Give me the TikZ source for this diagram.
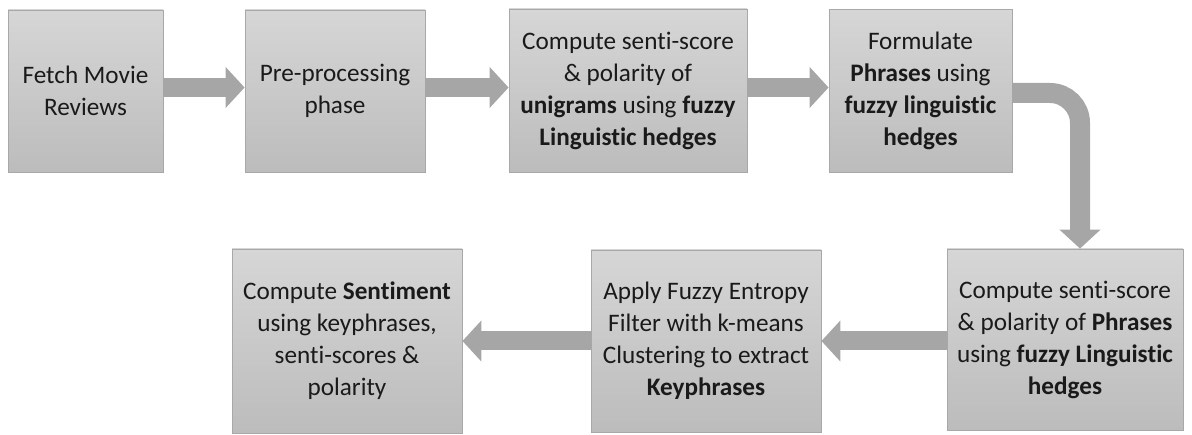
\documentclass[tikz,border=0pt]{standalone}
\usepackage{fontspec}
\setmainfont{Carlito}[Ligatures=NoCommon]
\usetikzlibrary{arrows.meta}
\definecolor{boxtop}{HTML}{D6D6D6}
\definecolor{boxbot}{HTML}{BCBCBC}
\definecolor{boxline}{HTML}{A8A8A8}
\definecolor{flow}{HTML}{A6A6A6}
\definecolor{ink}{HTML}{1A1A1A}
\begin{document}
\begin{tikzpicture}[x=1pt,y=-1pt,
  stage/.style={draw=boxline, line width=0.8pt, top color=boxtop, bottom color=boxbot,
    align=center, inner sep=0pt, text=ink,
    font=\fontsize{25.2}{32}\selectfont},
  flowarrow/.style={draw=flow, line width=19pt,
    -{Triangle[width=40pt,length=19pt]}, color=flow}
]
\useasboundingbox (0,0) rectangle (1192,435);

% top row
\node[stage, minimum width=155pt, minimum height=162pt] (b1) at (85.5,91)
  {Fetch Movie\\Reviews};
\node[stage, minimum width=180pt, minimum height=162pt] (b2) at (335,91)
  {Pre-processing\\phase};
\node[stage, minimum width=238pt, minimum height=163pt] (b3) at (628,90.5)
  {Compute senti-score\\\& polarity of\\\textbf{unigrams} using \textbf{fuzzy}\\\textbf{Linguistic hedges}};
\node[stage, minimum width=183pt, minimum height=163pt] (b4) at (920.5,91)
  {Formulate\\\textbf{Phrases} using\\\textbf{fuzzy linguistic}\\\textbf{hedges}};

% bottom row
\node[stage, minimum width=236pt, minimum height=181pt] (b5) at (1065,339.5)
  {Compute senti-score\\\& polarity of \textbf{Phrases}\\using \textbf{fuzzy Linguistic}\\\textbf{hedges}};
\node[stage, minimum width=230pt, minimum height=182pt] (b6) at (706,341)
  {Apply Fuzzy Entropy\\Filter with k-means\\Clustering to extract\\\textbf{Keyphrases}};
\node[stage, minimum width=230pt, minimum height=184pt] (b7) at (347,341)
  {Compute \textbf{Sentiment}\\using keyphrases,\\senti-scores \&\\polarity};

% connectors
\draw[flowarrow] (b1.east |- 0,87.5) -- (b2.west |- 0,87.5);
\draw[flowarrow] (b2.east |- 0,87.5) -- (b3.west |- 0,87.5);
\draw[flowarrow] (b3.east |- 0,87.5) -- (b4.west |- 0,87.5);
\coordinate (turn) at (1080,93);
\draw[flowarrow, line width=20pt, rounded corners=30pt]
  (b4.east |- turn) -- (turn) -- (b5.north -| turn);
\draw[flowarrow] (b5.west |- 0,341) -- (b6.east |- 0,341);
\draw[flowarrow] (b6.west |- 0,341) -- (b7.east |- 0,341);
\end{tikzpicture}
\end{document}
